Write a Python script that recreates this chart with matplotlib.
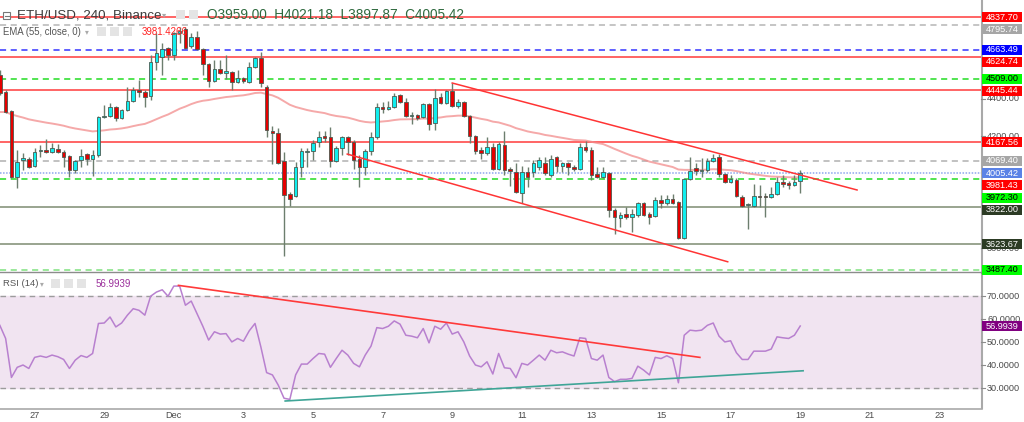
import numpy as np
import matplotlib
matplotlib.use("Agg")
import matplotlib.pyplot as plt
from matplotlib.patches import Rectangle
from matplotlib.lines import Line2D

plt.rcParams['font.family'] = ['Liberation Sans', 'DejaVu Sans']

# ETH/USD 4h candles, bar 0 = 1 Dec 00:00
bar_idx = np.arange(-30, 109)

opens = [4528, 4437, 4335, 3982, 4073, 4079, 4041, 4121, 4127, 4116,
         4132, 4116, 4095, 4020, 4073, 4105, 4079, 4100, 4303, 4309,
         4357, 4298, 4341, 4389, 4448, 4437, 4416, 4597, 4624, 4672,
         4635, 4752, 4774, 4683, 4731, 4667, 4587, 4496, 4560, 4539,
         4544, 4490, 4512, 4490, 4571, 4619, 4464, 4228, 4218, 4068,
         3892, 3881, 4036, 4116, 4121, 4170, 4202, 4196, 4068, 4138,
         4196, 4170, 4079, 4036, 4121, 4196, 4357, 4346, 4357, 4421,
         4384, 4309, 4314, 4303, 4373, 4271, 4410, 4378, 4442, 4362,
         4384, 4309, 4202, 4127, 4111, 4143, 4025, 4154, 4025, 4009,
         3897, 4009, 4009, 4036, 4057, 3993, 4089, 4041, 4057, 4036,
         4025, 4143, 4127, 3998, 3982, 4004, 3806, 3763, 3784, 3768,
         3779, 3843, 3784, 3774, 3859, 3843, 3865, 3848, 3656, 3972,
         4031, 4014, 4020, 4068, 4089, 3998, 3956, 3966, 3875, 3833,
         3827, 3881, 3881, 3875, 3892, 3956, 3950, 3940, 3959.00]
highs = [4555, 4448, 4341, 4127, 4111, 4089, 4138, 4154, 4185, 4164,
         4159, 4127, 4100, 4073, 4132, 4111, 4127, 4309, 4367, 4378,
         4362, 4346, 4464, 4464, 4501, 4448, 4635, 4752, 4699, 4678,
         4758, 4785, 4785, 4752, 4763, 4672, 4592, 4608, 4608, 4635,
         4549, 4555, 4517, 4597, 4624, 4651, 4474, 4255, 4244, 4116,
         3902, 4063, 4138, 4138, 4180, 4228, 4228, 4250, 4148, 4202,
         4202, 4180, 4100, 4132, 4223, 4378, 4384, 4389, 4432, 4426,
         4405, 4330, 4320, 4378, 4378, 4453, 4432, 4448, 4485, 4400,
         4389, 4314, 4207, 4143, 4196, 4164, 4170, 4228, 4036, 4057,
         4041, 4036, 4073, 4089, 4089, 4100, 4095, 4063, 4062, 4047,
         4164, 4175, 4143, 4036, 4036, 4009, 3817, 3795, 3822, 3811,
         3848, 3848, 3795, 3875, 3886, 3886, 3892, 3854, 3977, 4089,
         4057, 4084, 4084, 4105, 4105, 4004, 3993, 3977, 3886, 3843,
         3945, 3940, 3897, 3929, 3982, 3993, 3961, 3993, 4021.18]
lows = [4420, 4325, 3977, 3924, 4020, 4031, 4036, 4089, 4111, 4111,
        4111, 4036, 3982, 4004, 4036, 4047, 3988, 4089, 4298, 4303,
        4282, 4292, 4335, 4384, 4410, 4357, 4394, 4555, 4528, 4608,
        4608, 4699, 4667, 4672, 4662, 4528, 4464, 4490, 4533, 4506,
        4448, 4485, 4485, 4485, 4565, 4464, 4196, 4052, 4052, 3560,
        3827, 3875, 3982, 4036, 4073, 4143, 4170, 4036, 4063, 4100,
        4100, 4025, 3929, 3993, 4100, 4185, 4325, 4341, 4351, 4378,
        4303, 4266, 4287, 4298, 4234, 4234, 4373, 4373, 4357, 4351,
        4303, 4164, 4105, 4079, 4100, 4020, 4020, 3993, 3934, 3897,
        3843, 3929, 3982, 4020, 3993, 3982, 4009, 4009, 3993, 4014,
        4020, 4116, 3966, 3977, 3977, 3768, 3678, 3715, 3758, 3688,
        3768, 3774, 3731, 3768, 3817, 3833, 3838, 3651, 3651, 3966,
        3993, 3982, 4009, 4063, 3982, 3950, 3950, 3875, 3822, 3704,
        3822, 3822, 3768, 3870, 3886, 3929, 3918, 3934, 3897.87]
closes = [4432, 4330, 3982, 4063, 4084, 4036, 4116, 4127, 4116, 4138,
          4116, 4089, 4020, 4068, 4095, 4079, 4100, 4303, 4309, 4357,
          4298, 4341, 4389, 4448, 4437, 4410, 4597, 4646, 4667, 4635,
          4752, 4762, 4672, 4731, 4667, 4587, 4496, 4560, 4539, 4549,
          4490, 4512, 4496, 4571, 4619, 4485, 4234, 4218, 4057, 3886,
          3865, 4036, 4121, 4121, 4164, 4196, 4191, 4068, 4138, 4196,
          4170, 4073, 4036, 4121, 4196, 4357, 4346, 4357, 4416, 4384,
          4309, 4314, 4298, 4373, 4266, 4405, 4378, 4442, 4362, 4384,
          4309, 4202, 4121, 4111, 4143, 4025, 4159, 4020, 4014, 3902,
          4009, 3982, 4057, 4073, 4004, 4079, 4041, 4057, 4036, 4025,
          4143, 4127, 3993, 3982, 4009, 3806, 3768, 3779, 3768, 3784,
          3843, 3779, 3768, 3859, 3843, 3865, 3843, 3656, 3972, 4014,
          4014, 4020, 4068, 4084, 3998, 3956, 3972, 3881, 3827, 3838,
          3881, 3875, 3875, 3892, 3956, 3945, 3940, 3956, 4005.42]
rsi_vals = [57.3, 51.6, 34.7, 39.1, 40.1, 38.6, 43.4, 44.0, 43.4, 44.4,
            43.7, 42.5, 38.6, 42.2, 44.2, 43.4, 45.1, 58.1, 58.3, 60.9,
            56.6, 58.3, 61.7, 64.5, 63.8, 61.7, 69.9, 71.7, 72.7, 69.9,
            74.3, 74.3, 66.0, 67.8, 62.4, 56.9, 50.9, 54.5, 53.5, 53.7,
            50.1, 51.6, 50.4, 54.9, 58.1, 48.0, 36.8, 35.8, 31.4, 25.7,
            25.2, 35.8, 40.5, 40.5, 42.9, 45.1, 44.8, 39.1, 42.9, 46.5,
            44.4, 40.8, 39.3, 44.4, 48.3, 56.3, 55.9, 56.9, 59.2, 57.8,
            53.0, 52.6, 51.9, 55.9, 49.7, 56.9, 55.6, 58.3, 53.5, 54.5,
            50.1, 44.0, 40.1, 39.3, 41.5, 36.2, 45.1, 38.9, 38.6, 34.6,
            40.8, 40.1, 42.2, 44.4, 42.2, 46.5, 45.4, 45.8, 44.8, 44.0,
            51.9, 51.6, 42.9, 42.2, 44.4, 34.7, 32.9, 33.9, 33.9, 34.3,
            39.6, 37.9, 35.8, 43.4, 42.9, 44.1, 42.9, 32.4, 53.0, 55.2,
            54.9, 55.2, 57.3, 58.3, 52.6, 50.1, 50.6, 45.4, 42.5, 42.5,
            46.1, 46.1, 46.1, 47.0, 52.3, 51.9, 51.6, 53.0, 56.9939]

ema_len = 55
ema_seed = 4326.0   # EMA value just before the first visible bar

# horizontal levels drawn on the price pane
levels = [4837.70, 4795.74, 4663.49, 4624.74, 4509.00, 4445.44, 4167.56,
          4069.40, 4005.42, 3972.30, 3822.00, 3623.67, 3487.40]
level_colors = ['#ff3b3b', '#b5b5b5', '#3434ff', '#ff3b3b', '#22dd22', '#ff3b3b', '#ff3b3b',
                '#b0b0b0', '#8ea6ee', '#22dd22', '#7d8c72', '#7d8c72', '#7fe27f']
level_styles = ['-', (0, (4, 3)), (0, (4, 3)), '-', (0, (4, 3)), '-', '-',
                (0, (4, 3)), (0, (1, 1)), (0, (4, 3)), '-', '-', (0, (4, 3))]

# price scale labels (level lines + EMA marker)
tag_values = [4837.70, 4795.74, 4663.49, 4624.74, 4509.00, 4445.44, 4167.56,
              4069.40, 4005.42, 3981.43, 3972.30, 3822.00, 3623.67, 3487.40]
tag_fill = ['#ff0000', '#a6a6a6', '#0000ff', '#ff0000', '#00ff00', '#ff0000', '#ff0000',
            '#a6a6a6', '#5a82e6', '#ff0000', '#00ff00', '#2c3b24', '#2c3b24', '#00ff00']
tag_text = ['white', 'white', 'white', 'white', 'black', 'white', 'white',
            'white', 'white', 'white', 'black', 'white', 'white', 'black']

# only the scale ticks that peek out from behind the tags
price_ticks = [4400, 4200, 3600]
rsi_ticks = [80, 70, 60, 50, 40, 30]

# trend lines (bar index, value)
chan_upper = ([48, 117.8], [4485, 3913])
chan_lower = ([29.9, 95.5], [4105, 3529])
rsi_down = ([0.8, 90.7], [74.6, 43.4])
rsi_up = ([19.2, 108.5], [24.5, 37.6])

day_offsets = [-4, -2, 0, 2, 4, 6, 8, 10, 12, 14, 16, 18, 20, 22]
day_labels = ['27', '29', 'Dec', '3', '5', '7', '9', '11', '13', '15', '17', '19', '21', '23']

# ---------------------------------------------------------------
W, H = 1024, 422
fig = plt.figure(figsize=(W / 100, H / 100), dpi=100)
fig.patch.set_facecolor('white')

def fx(x):
    return x / W

def fy(y):
    return 1 - y / H

ax = fig.add_axes([0, fy(272), fx(981), 272 / H])
ax2 = fig.add_axes([0, fy(408), fx(981), (408 - 272) / H])
for a in (ax, ax2):
    a.set_axis_off()
    a.set_xlim(-29.97, 139.17)
ax.set_ylim(3474.3, 4929)
ax2.set_ylim(21.47, 80.4)

# level lines
for lv, c, ls in zip(levels, level_colors, level_styles):
    ax.axhline(lv, color=c, linestyle=ls, linewidth=1.1, zorder=1)

# EMA
ema = []
prev = ema_seed
alpha = 2 / (ema_len + 1)
for c in closes:
    prev = prev + alpha * (c - prev)
    ema.append(prev)
ax.plot(bar_idx, ema, color='#f28c8c', alpha=0.75, linewidth=1.4, zorder=2)

# candles
o = np.array(opens, float)
h = np.array(highs, float)
l = np.array(lows, float)
c = np.array(closes, float)
up = c >= o
ax.vlines(bar_idx, l, h, color='#6c7e6e', linewidth=1.0, zorder=3)
body_h = np.maximum(np.abs(c - o), 3)
ax.bar(bar_idx, body_h, bottom=np.minimum(o, c), width=0.64,
       color=np.where(up, '#11eeee', '#e50000'), edgecolor='#4c5a50',
       linewidth=0.6, zorder=4)

# channel
for xs, ys in (chan_upper, chan_lower):
    ax.plot(xs, ys, color='#ff3434', linewidth=1.1, zorder=5)

# RSI pane
ax2.axhspan(30, 70, color='#f1e4f1', zorder=0)
for v in (70, 30):
    ax2.axhline(v, color='#9c9c9c', linestyle=(0, (4, 3)), linewidth=1, zorder=1)
ax2.plot(bar_idx, rsi_vals, color='#b880cf', linewidth=1.1, zorder=3)
ax2.plot(*rsi_down, color='#ff3a3a', linewidth=1.2, zorder=4)
ax2.plot(*rsi_up, color='#3fa597', linewidth=1.2, zorder=4)

# frame lines
fig.add_artist(Line2D([fx(981.5), fx(981.5)], [fy(0), fy(408)], color='#a9a9a9', lw=1.5))
fig.add_artist(Line2D([0, fx(981.5)], [fy(408.5), fy(408.5)], color='#a9a9a9', lw=1.2))
fig.add_artist(Line2D([0, fx(981.5)], [fy(272), fy(272)], color='#8c8c8c', lw=1.0))

def py(a, v):
    return H - a.transData.transform((0, v))[1]

fs_axis = 6.6
# price axis ticks
for t in price_ticks:
    y = py(ax, t)
    fig.text(fx(987), fy(y), f'{t:.2f}', fontsize=fs_axis, color='#4a4a4a',
             va='center', ha='left', zorder=1)
    fig.add_artist(Line2D([fx(981), fx(985)], [fy(y), fy(y)], color='#8c8c8c', lw=0.8))
# rsi axis ticks
for t in rsi_ticks:
    y = py(ax2, t)
    fig.text(fx(987), fy(y), f'{t:.4f}', fontsize=fs_axis, color='#4a4a4a',
             va='center', ha='left', zorder=1)
    fig.add_artist(Line2D([fx(981), fx(985)], [fy(y), fy(y)], color='#8c8c8c', lw=0.8))

# price tags, pushed down when they overlap
tag_y = []
for v in tag_values:
    y = py(ax, v)
    if tag_y and y < tag_y[-1] + 12.3:
        y = tag_y[-1] + 12.3
    tag_y.append(y)
for v, y, fc, tc in zip(tag_values, tag_y, tag_fill, tag_text):
    fig.add_artist(Rectangle((fx(982), fy(y + 5)), fx(40), 10 / H,
                             transform=fig.transFigure, facecolor=fc, edgecolor='none', zorder=2))
    fig.text(fx(1002), fy(y), f'{v:.2f}', fontsize=fs_axis, color=tc,
             va='center', ha='center', zorder=3)

# RSI value tag
ry = py(ax2, rsi_vals[-1])
fig.add_artist(Rectangle((fx(982), fy(ry + 5)), fx(40), 10 / H,
                         transform=fig.transFigure, facecolor='#800080', edgecolor='none', zorder=2))
fig.text(fx(1002), fy(ry), f'{rsi_vals[-1]:.4f}', fontsize=fs_axis, color='white',
         va='center', ha='center', zorder=3)

# date axis
for d, lab in zip(day_offsets, day_labels):
    xpix = ax.transData.transform((d * 6, 0))[0]
    fig.text(fx(xpix), fy(415.5), lab, fontsize=fs_axis, color='#4a4a4a',
             ha='center', va='center')

# header / legends
def icon(x, y, w=9, hgt=9):
    fig.add_artist(Rectangle((fx(x), fy(y + hgt)), fx(w), hgt / H, transform=fig.transFigure,
                             facecolor='#e4e4e4', edgecolor='none', zorder=5))

fig.add_artist(Rectangle((fx(3), fy(19)), fx(7), 7 / H, transform=fig.transFigure,
                         facecolor='white', edgecolor='#777777', lw=0.8, zorder=5))
fig.add_artist(Line2D([fx(4.5), fx(8.5)], [fy(15.5), fy(15.5)], color='#777777', lw=0.8, zorder=6))
fig.text(fx(17), fy(15), 'ETH/USD, 240, Binance', fontsize=9.6, color='#3c3c3c',
         va='center', ha='left', zorder=6)
fig.text(fx(162), fy(15), '▾', fontsize=6, color='#aaaaaa', va='center', ha='left',
         family='DejaVu Sans', zorder=6)
icon(176, 10)
icon(189, 10)
fig.text(fx(207), fy(15), 'O3959.00  H4021.18  L3897.87  C4005.42', fontsize=9.8,
         color='#2f6a3f', va='center', ha='left', zorder=6)

fig.text(fx(3), fy(32), 'EMA (55, close, 0)', fontsize=6.9, color='#555555',
         va='center', ha='left', zorder=6)
fig.text(fx(85), fy(32), '▾', fontsize=5.5, color='#aaaaaa', va='center', ha='left',
         family='DejaVu Sans', zorder=6)
icon(97, 27)
icon(110, 27)
icon(123, 27)
fig.text(fx(142), fy(32), '3981.4266', fontsize=7, color='#ff2020',
         va='center', ha='left', zorder=6)

fig.text(fx(3), fy(284), 'RSI (14)', fontsize=6.8, color='#555555',
         va='center', ha='left', zorder=6)
fig.text(fx(40), fy(284), '▾', fontsize=5.5, color='#aaaaaa', va='center', ha='left',
         family='DejaVu Sans', zorder=6)
icon(51, 279)
icon(64, 279)
icon(77, 279)
fig.text(fx(96), fy(284), f'{rsi_vals[-1]:.4f}', fontsize=7, color='#9b2f9b',
         va='center', ha='left', zorder=6)

fig.savefig('out.png', dpi=100)
